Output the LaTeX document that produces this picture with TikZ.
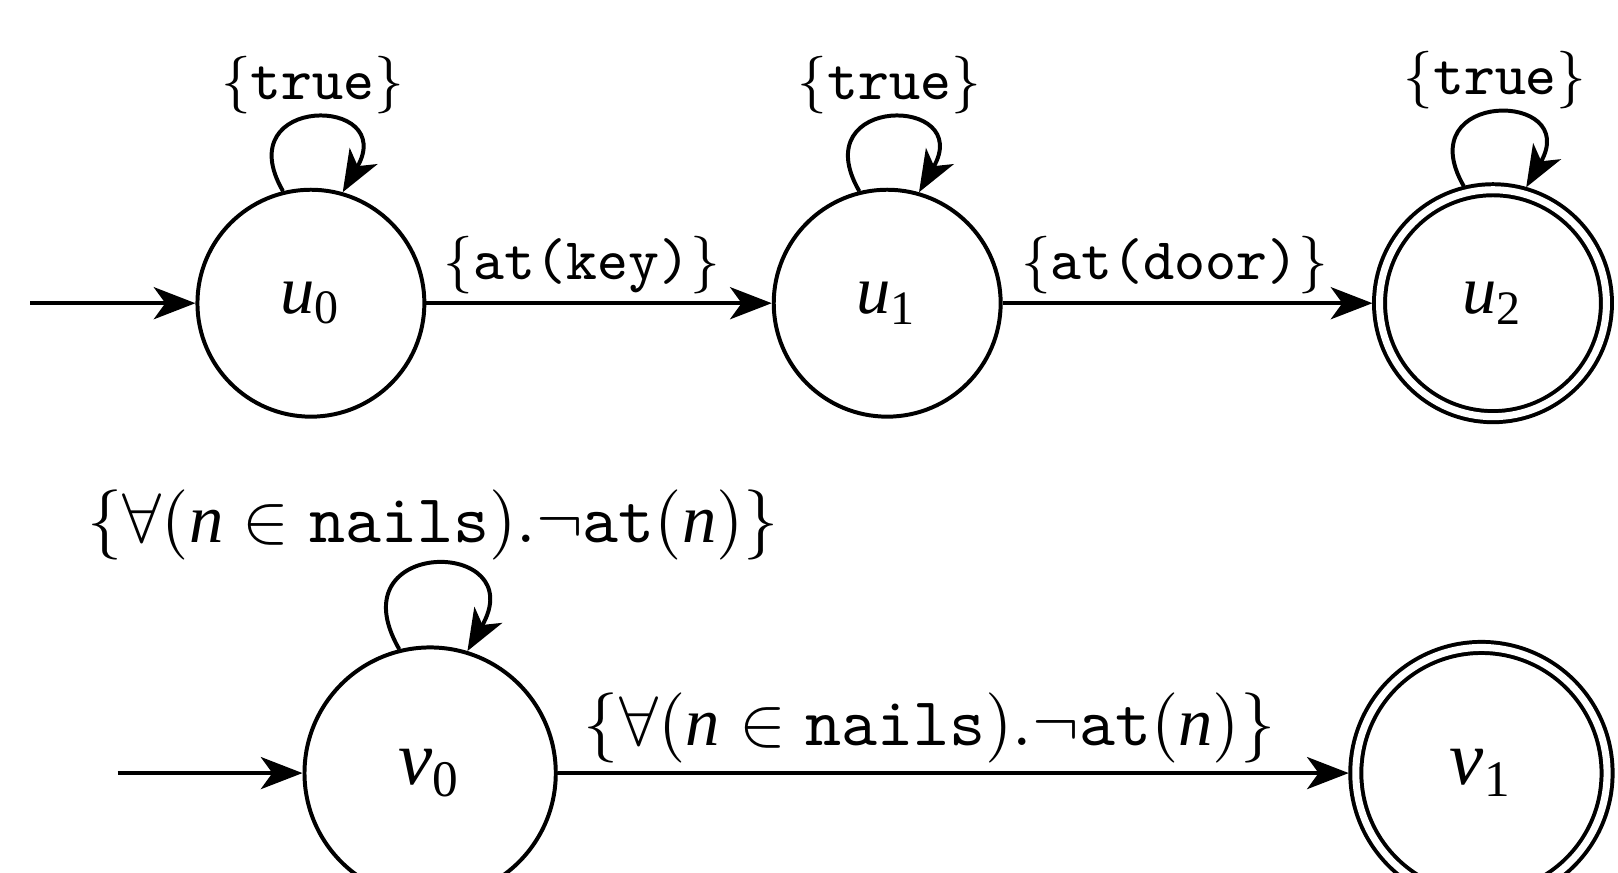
\documentclass[tikz,border=0pt]{standalone}
\usepackage{fontspec}
\newfontfamily\tms{Liberation Serif}
\usetikzlibrary{positioning,arrows.meta}

\newcommand{\mvar}[1]{\mbox{\tms\itshape #1}}
\newcommand{\stname}[2]{\mvar{#1}\textsubscript{\tms #2}}
\newcommand{\nailsfree}{$\{\forall(\mvar{n}\in\mbox{\texttt{nails}}).\neg\mbox{\texttt{at}}(\mvar{n})\}$}

\tikzset{
  state/.style={circle,draw,minimum size=35.4pt,inner sep=0pt,
    font=\fontsize{10.7pt}{13pt}\selectfont},
  bigstate/.style={state,minimum size=39.2pt,font=\fontsize{12pt}{14pt}\selectfont},
  accept/.style={double,double distance=1.1pt,outer sep=1.1pt},
  smalllabel/.style={font=\fontsize{9.2pt}{11pt}\selectfont},
  biglabel/.style={font=\fontsize{10.7pt}{13pt}\selectfont},
}

\begin{document}
\begin{tikzpicture}[->,>={Stealth[length=6.5pt,width=5pt,inset=1.8pt]},
  line width=0.62pt,on grid]
\useasboundingbox (-48.5pt,47.3pt) rectangle (203.9pt,-88.8pt);
% first automaton
\node[state] (u0) {\stname{u}{0}};
\node[state] (u1) [right=89.9pt of u0] {\stname{u}{1}};
\node[state,accept] (u2) [right=94.5pt of u1] {\stname{u}{2}};
\coordinate[left=43.8pt of u0] (iu);
\draw (iu) -- (u0);
\draw (u0) -- node[above,pos=0.45,inner sep=1.2pt,smalllabel] {$\{$\texttt{at(key)}$\}$} (u1);
\draw (u1) -- node[above,pos=0.465,inner sep=1.2pt,smalllabel] {$\{$\texttt{at(door)}$\}$} (u2);
\draw (u0.104) to[out=120,in=60,distance=17.5pt] node[above,inner sep=0.5pt,smalllabel] {$\{$\texttt{true}$\}$} (u0.74);
\draw (u1.104) to[out=120,in=60,distance=17.5pt] node[above,inner sep=0.5pt,smalllabel] {$\{$\texttt{true}$\}$} (u1.74);
\draw (u2.104) to[out=120,in=60,distance=17.5pt] node[above,inner sep=0.5pt,smalllabel] {$\{$\texttt{true}$\}$} (u2.74);
% second automaton
\node[bigstate] (v0) [below right=73.3pt and 18.6pt of u0] {\stname{v}{0}};
\node[bigstate,accept] (v1) [right=164pt of v0] {\stname{v}{1}};
\coordinate[left=48.75pt of v0] (iv);
\draw (iv) -- (v0);
\draw (v0) -- node[above,pos=0.47,inner sep=1.2pt,biglabel] {\nailsfree} (v1);
\draw (v0.104) to[out=120,in=60,distance=20.4pt] node[above,inner sep=0.5pt,biglabel] {\nailsfree} (v0.73);
\end{tikzpicture}
\end{document}
